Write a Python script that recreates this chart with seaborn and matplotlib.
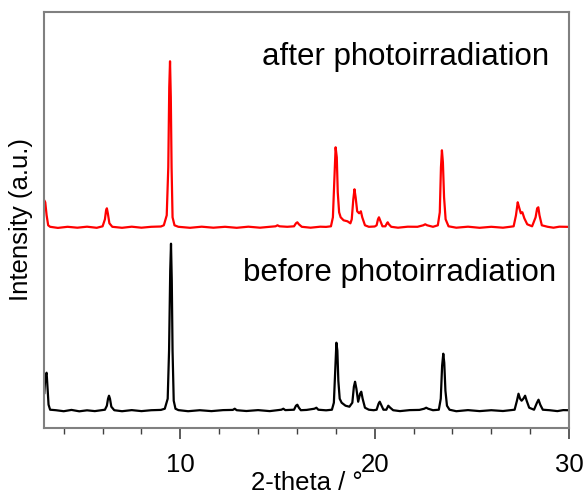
import matplotlib
matplotlib.use("Agg")
import matplotlib.pyplot as plt
from matplotlib.ticker import MultipleLocator
import seaborn as sns

# before photoirradiation (black)
before_x = [3.0, 3.04, 3.08, 3.12, 3.16, 3.22, 3.3, 3.6, 4.0, 4.4,
            4.8, 5.2, 5.6, 6.0, 6.12, 6.22, 6.28, 6.33, 6.38, 6.45,
            6.6, 7.0, 7.5, 8.0, 8.5, 9.0, 9.2, 9.35, 9.42, 9.48,
            9.52, 9.56, 9.6, 9.66, 9.75, 9.9, 10.4, 11.0, 11.6, 12.2,
            12.7, 12.8, 12.9, 13.4, 14.0, 14.6, 15.2, 15.3, 15.4, 15.85,
            15.95, 16.02, 16.1, 16.2, 16.5, 16.9, 17.0, 17.1, 17.5, 17.8,
            17.9, 17.97, 18.03, 18.08, 18.13, 18.2, 18.3, 18.5, 18.7, 18.85,
            18.93, 18.99, 19.06, 19.15, 19.25, 19.31, 19.38, 19.5, 19.7, 19.95,
            20.1, 20.2, 20.26, 20.33, 20.45, 20.6, 20.7, 20.8, 20.95, 21.3,
            21.8, 22.3, 22.55, 22.65, 22.75, 23.0, 23.3, 23.4, 23.47, 23.53,
            23.58, 23.64, 23.72, 23.85, 24.2, 24.8, 25.4, 26.0, 26.6, 27.0,
            27.2, 27.32, 27.4, 27.48, 27.56, 27.65, 27.74, 27.82, 27.95, 28.2,
            28.35, 28.43, 28.52, 28.65, 29.0, 29.4, 29.7, 30.0]
before_y = [17, 30, 36, 38, 25, 6, 1, 0.5, -0.5, 0.8,
            -0.6, 0.4, -0.4, 0.6, 1, 5, 12, 15, 12, 4,
            0.5, -0.5, 0.6, -0.4, 0.5, 0.8, 2, 12, 60, 140,
            167, 130, 60, 10, 2, 0.6, -0.5, 0.5, -0.4, 0.6,
            0.8, 2, 0.5, -0.3, 0.6, -0.4, 1, 2, 0.6, 1,
            5, 6, 3, 0.5, 0.8, 2, 3, 1, 0.4, 1,
            8, 40, 68, 60, 30, 12, 8, 5, 4, 8,
            24, 29, 22, 9, 17, 19, 12, 3, 1, 0.5,
            1, 7, 9, 6, 1, 1, 5, 3, 0.5, -0.4,
            0.6, 0.8, 2, 3, 2, 0.5, 1, 12, 45, 57,
            48, 20, 5, 1, -0.5, 0.6, -0.4, 0.5, -0.3, 0.6,
            1, 10, 17, 12, 10, 12, 15, 10, 3, 1,
            8, 11, 6, 1, 0.5, -0.4, 0.6, 0.5]

# after photoirradiation (red)
after_x = [3.0, 3.05, 3.12, 3.2, 3.3, 3.7, 4.2, 4.7, 5.2, 5.7,
           6.0, 6.12, 6.18, 6.22, 6.27, 6.35, 6.5, 7.0, 7.5, 8.0,
           8.5, 9.0, 9.15, 9.3, 9.38, 9.43, 9.47, 9.51, 9.55, 9.6,
           9.7, 9.9, 10.5, 11.1, 11.7, 12.3, 12.9, 13.5, 14.1, 14.6,
           14.9, 15.0, 15.1, 15.5, 15.85, 15.95, 16.02, 16.1, 16.25, 16.7,
           17.2, 17.5, 17.75, 17.85, 17.93, 17.99, 18.05, 18.1, 18.17, 18.25,
           18.4, 18.6, 18.75, 18.82, 18.9, 18.96, 19.02, 19.1, 19.2, 19.29,
           19.36, 19.5, 19.7, 20.0, 20.1, 20.17, 20.22, 20.28, 20.4, 20.55,
           20.63, 20.67, 20.73, 20.85, 21.2, 21.7, 22.2, 22.5, 22.6, 22.7,
           23.0, 23.25, 23.35, 23.41, 23.46, 23.51, 23.57, 23.65, 23.8, 24.2,
           24.8, 25.4, 26.0, 26.6, 27.0, 27.15, 27.27, 27.36, 27.43, 27.52,
           27.6, 27.7, 27.85, 28.1, 28.28, 28.36, 28.42, 28.48, 28.6, 28.9,
           29.2, 29.5, 29.8, 30.0]
after_y = [27, 25, 12, 2, 0.5, -0.6, 0.5, -0.4, 0.6, -0.5,
           1, 8, 17, 19, 14, 4, 0.5, -0.5, 0.6, -0.4,
           0.5, 0.8, 2, 12, 60, 140, 166, 130, 60, 10,
           2, 0.5, -0.5, 0.6, -0.4, 0.5, -0.5, 0.6, -0.4, 0.5,
           1, 2, 1, 0.5, 1, 4, 5, 3, 0.5, -0.4,
           0.6, 0.4, 1, 10, 50, 80, 70, 35, 15, 10,
           7, 6, 4, 8, 28, 38, 30, 16, 14, 16,
           10, 2, 0.5, 0.8, 2, 8, 10, 7, 1, 1,
           4, 5, 3, 0.5, -0.4, 0.6, 0.5, 2, 3, 2,
           0.5, 2, 15, 60, 77, 65, 30, 8, 1, -0.4,
           0.6, -0.5, 0.5, -0.4, 0.6, 1, 12, 25, 20, 14,
           15, 9, 3, 1, 10, 19, 20, 12, 2, 0.5,
           -0.4, 0.6, 0.5, 0.4]

sns.set_style("white")
plt.rcParams["font.family"] = ["Liberation Sans", "DejaVu Sans"]
plt.rcParams["text.color"] = "black"
plt.rcParams["axes.labelcolor"] = "black"
plt.rcParams["xtick.color"] = "black"

fig = plt.figure(figsize=(5.85, 4.97), dpi=100)
ax = fig.add_axes([0.0757, 0.1388, 0.897, 0.8371])

offset = 183.4
sns.lineplot(x=before_x, y=before_y, color="black", lw=1.6, ax=ax, sort=False)
sns.lineplot(x=after_x, y=[v + offset for v in after_y], color="#ff0000", lw=1.6, ax=ax, sort=False)

ax.set_xlim(3.0, 30)
ax.set_ylim(-17.3, 398.7)
ax.xaxis.set_major_locator(MultipleLocator(10))
ax.xaxis.set_minor_locator(MultipleLocator(2))
ax.tick_params(axis="x", which="major", direction="out", length=8, width=1.2,
               color="#404040", labelcolor="black", labelsize=18.5, bottom=True, pad=10)
ax.tick_params(axis="x", which="minor", direction="out", length=4, width=1.0,
               color="#404040", bottom=True)
ax.set_yticks([])
for s in ax.spines.values():
    s.set_color("#808080")
    s.set_linewidth(1.5)

ax.set_xlabel("2-theta / °", fontsize=18.5, labelpad=-4, color="black")
ax.set_ylabel("Intensity (a.u.)", fontsize=18.5, labelpad=8, color="black")

ax.text(0.962, 0.892, "after photoirradiation", transform=ax.transAxes,
        ha="right", va="center", fontsize=22.5, color="black")
ax.text(0.975, 0.3726, "before photoirradiation", transform=ax.transAxes,
        ha="right", va="center", fontsize=22.5, color="black")

fig.savefig("out.png", dpi=100)
